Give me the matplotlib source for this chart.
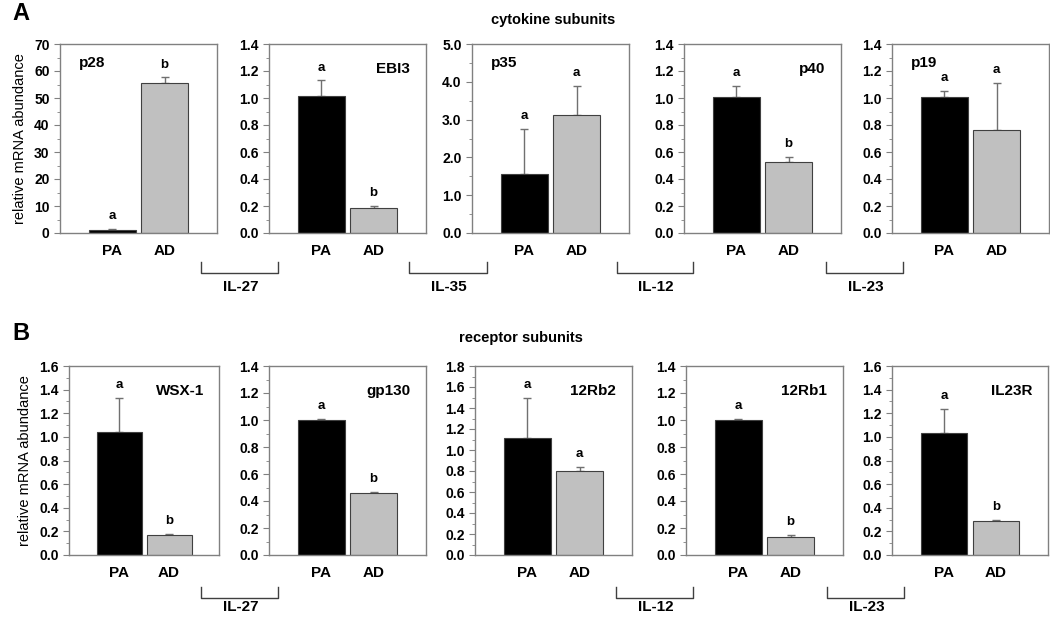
import matplotlib.pyplot as plt
import numpy as np
from matplotlib.ticker import MultipleLocator, FormatStrFormatter

plt.rcParams['font.family'] = ['Liberation Sans', 'DejaVu Sans']

groups = ["PA", "AD"]

# row A: cytokine subunits
names_a = ["p28", "EBI3", "p35", "p40", "p19"]
means_a = [[1.2, 55.7], [1.015, 0.185], [1.56, 3.12], [1.01, 0.526], [1.01, 0.763]]
errs_a = [[0.3, 1.9], [0.115, 0.015], [1.19, 0.78], [0.076, 0.037], [0.044, 0.346]]
letters_a = [["a", "b"], ["a", "b"], ["a", "a"], ["a", "b"], ["a", "a"]]
ymax_a = [70, 1.4, 5.0, 1.4, 1.4]
ystep_a = [10, 0.2, 1.0, 0.2, 0.2]
fmt_a = ["%d", "%.1f", "%.1f", "%.1f", "%.1f"]

# row B: receptor subunits
names_b = ["WSX-1", "gp130", "12Rb2", "12Rb1", "IL23R"]
means_b = [[1.045, 0.17], [0.998, 0.461], [1.116, 0.80], [0.998, 0.133], [1.035, 0.288]]
errs_b = [[0.285, 0.008], [0.012, 0.007], [0.384, 0.036], [0.008, 0.015], [0.203, 0.012]]
letters_b = [["a", "b"], ["a", "b"], ["a", "a"], ["a", "b"], ["a", "b"]]
ymax_b = [1.6, 1.4, 1.8, 1.4, 1.6]
ystep_b = [0.2, 0.2, 0.2, 0.2, 0.2]
fmt_b = ["%.1f"] * 5

W, H = 1050, 618
fig = plt.figure(figsize=(W / 100, H / 100), dpi=100)

# panel layout in pixels and name label placement
lefts_a = [60, 269, 472, 684, 892]
lefts_b = [69, 269, 475, 686, 892]
widths_b = [150, 157, 157, 157, 156]
name_pos_a = ["left", "right", "left", "right", "left"]
name_pos_b = ["right"] * 5

bar_colors = ["black", "#c0c0c0"]
spine_col = "#808080"


def draw_panel(left, top, width, height, means, errs, letters, ymax, ystep, fmt, name, npos, ylabel):
    ax = fig.add_axes([left / W, 1 - (top + height) / H, width / W, height / H])
    x = np.arange(len(groups))
    ax.bar(x, means, width=0.9, color=bar_colors, edgecolor="#404040", linewidth=0.8, zorder=2)
    ax.errorbar(x, means, yerr=[np.zeros(len(errs)), errs], fmt="none", ecolor="#707070",
                elinewidth=1, capsize=3, capthick=1, zorder=1)
    for xi, m, e, l in zip(x, means, errs, letters):
        ax.annotate(l, (xi, m + e), xytext=(0, 5), textcoords="offset points", ha="center",
                    va="bottom", fontsize=9.5, fontweight="bold")
    ax.set_xlim(-1, 2)
    ax.set_ylim(0, ymax)
    ax.set_xticks(x)
    ax.set_xticklabels(groups, fontsize=11, fontweight="bold")
    ax.tick_params(axis="x", length=0, pad=8)
    ax.yaxis.set_major_locator(MultipleLocator(ystep))
    ax.yaxis.set_minor_locator(MultipleLocator(ystep / 2))
    ax.yaxis.set_major_formatter(FormatStrFormatter(fmt))
    ax.tick_params(axis="y", which="major", direction="out", length=4, color=spine_col, labelsize=10)
    ax.tick_params(axis="y", which="minor", direction="out", length=2, color=spine_col)
    for t in ax.get_yticklabels():
        t.set_fontweight("bold")
    for s in ax.spines.values():
        s.set_color(spine_col)
        s.set_linewidth(1)
    if npos == "left":
        ax.text(0.12, 0.9, name, transform=ax.transAxes, ha="left", va="center",
                fontsize=11, fontweight="bold")
    else:
        ax.text(0.9, 0.87, name, transform=ax.transAxes, ha="right", va="center",
                fontsize=11, fontweight="bold")
    if ylabel:
        ax.set_ylabel("relative mRNA abundance", fontsize=10.5, labelpad=5)
    return ax


for i in range(5):
    draw_panel(lefts_a[i], 44, 157, 189, means_a[i], errs_a[i], letters_a[i], ymax_a[i],
               ystep_a[i], fmt_a[i], names_a[i], name_pos_a[i], i == 0)
    draw_panel(lefts_b[i], 366, widths_b[i], 189, means_b[i], errs_b[i], letters_b[i], ymax_b[i],
               ystep_b[i], fmt_b[i], names_b[i], name_pos_b[i], i == 0)

# overlay for titles and brackets, in pixel coordinates
ov = fig.add_axes([0, 0, 1, 1], zorder=-1)
ov.set_xlim(0, W)
ov.set_ylim(H, 0)
ov.axis("off")

ov.text(12, 14, "A", fontsize=17, fontweight="bold", ha="left", va="center")
ov.text(12, 334, "B", fontsize=17, fontweight="bold", ha="left", va="center")
ov.text(553, 20, "cytokine subunits", fontsize=10.5, fontweight="bold", ha="center", va="center")
ov.text(521, 338, "receptor subunits", fontsize=10.5, fontweight="bold", ha="center", va="center")

brackets_a = [("IL-27", 201, 278), ("IL-35", 409, 487), ("IL-12", 617, 693), ("IL-23", 826, 903)]
brackets_b = [("IL-27", 201, 278), ("IL-12", 616, 693), ("IL-23", 827, 904)]
for row, y0, dy in [(brackets_a, 262, 25), (brackets_b, 587, 20)]:
    for lab, x0, x1 in row:
        ov.plot([x0, x0, x1, x1], [y0, y0 + 11, y0 + 11, y0], color="#404040", lw=1)
        ov.text((x0 + x1) / 2 + 1, y0 + dy, lab, fontsize=11, fontweight="bold",
                ha="center", va="center")

fig.savefig("out.png", dpi=100)
